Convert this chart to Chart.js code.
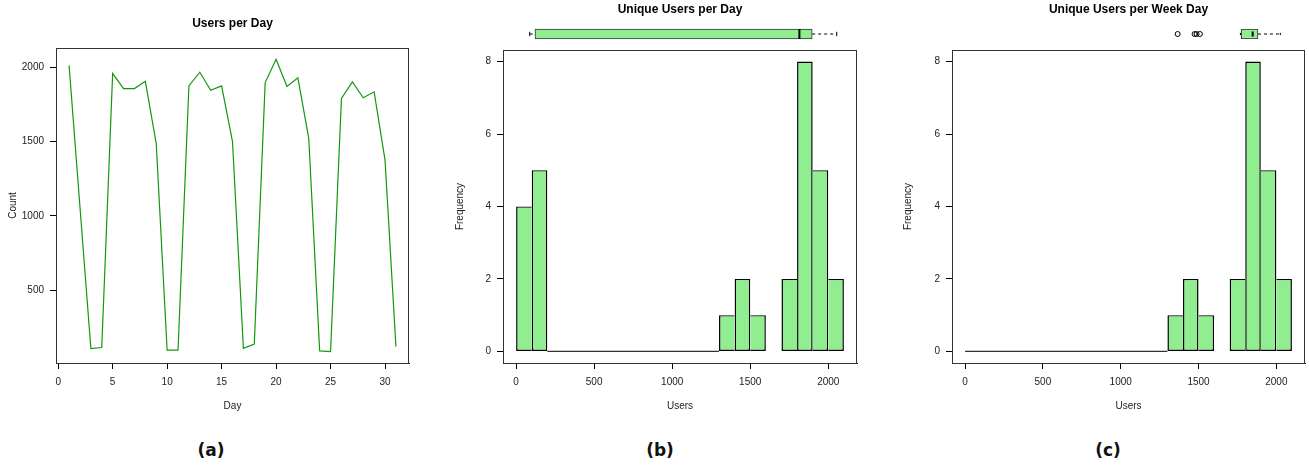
<!DOCTYPE html>
<html>
<head>
<meta charset="utf-8">
<script src="https://cdn.jsdelivr.net/npm/chart.js@4.4.0/dist/chart.umd.min.js"></script>
<style>
  body { margin: 0; width: 1309px; height: 468px; background: #fff; position: relative; overflow: hidden; }
  canvas { position: absolute; }
  .tag { position: absolute; top: 440px; width: 60px; margin-left: -30px; text-align: center;
         font: bold 17px "DejaVu Sans", sans-serif; color: #111; }
</style>
</head>
<body>
<canvas id="dayChart" width="436" height="425" style="left:0;top:0"></canvas>
<canvas id="uniqueChart" width="436" height="425" style="left:440px;top:0"></canvas>
<canvas id="weekChart" width="433" height="425" style="left:876px;top:0"></canvas>
<canvas id="uniqueBox" width="354" height="20" style="left:503px;top:24px"></canvas>
<canvas id="weekBox" width="353" height="20" style="left:952px;top:24px"></canvas>
<div class="tag" style="left:211px">(a)</div>
<div class="tag" style="left:660px">(b)</div>
<div class="tag" style="left:1108px">(c)</div>

<script>
// users per day (panel a)
const days = [1, 2, 3, 4, 5, 6, 7, 8, 9, 10, 11, 12, 13, 14, 15, 16, 17, 18, 19, 20, 21, 22, 23, 24, 25, 26, 27, 28, 29, 30, 31];
const dailyUsers = [2013, 1060, 107, 114, 1958, 1857, 1857, 1906, 1487, 96, 96, 1875, 1967, 1846, 1875, 1500,
                    109, 138, 1897, 2054, 1871, 1929, 1522, 92, 87, 1790, 1902, 1795, 1835, 1375, 121];
const dayTicks = [0, 5, 10, 15, 20, 25, 30];
const countTicks = [500, 1000, 1500, 2000];

// histograms (panels b and c), bins of 100 users
const binStarts = [0, 100, 200, 300, 400, 500, 600, 700, 800, 900, 1000, 1100, 1200, 1300, 1400, 1500, 1600, 1700, 1800, 1900, 2000];
const binWidth = 100;
const countsAllDays  = [4, 5, 0, 0, 0, 0, 0, 0, 0, 0, 0, 0, 0, 1, 2, 1, 0, 2, 8, 5, 2];
const countsWeekDays = [0, 0, 0, 0, 0, 0, 0, 0, 0, 0, 0, 0, 0, 1, 2, 1, 0, 2, 8, 5, 2];
const emptyRunAllDays = [200, 1300];   // zero bins drawn as a flat line
const emptyRunWeekDays = [0, 1300];
const userTicks = [0, 500, 1000, 1500, 2000];
const freqTicks = [0, 2, 4, 6, 8];

// box plots: min, lower hinge, median, upper hinge, max
const boxAllDays = [87, 121, 1815, 1897, 2054];
const outliersAllDays = [];
const boxWeekDays = [1790, 1795, 1871, 1906, 2054];
const outliersWeekDays = [1375, 1487, 1500, 1522];

Chart.defaults.font.family = '"Liberation Sans", Arial, sans-serif';
Chart.defaults.font.size = 10;
Chart.defaults.color = '#222';

const titleFont = { size: 12, weight: 'bold' };

// closed box round the plot region, like R's bty="o"
const frame = {
  id: 'frame',
  afterDraw(chart) {
    const { ctx, chartArea: a } = chart;
    ctx.save();
    ctx.strokeStyle = '#333';
    ctx.lineWidth = 1;
    ctx.strokeRect(Math.round(a.left) + 0.5, Math.round(a.top) + 0.5,
                   Math.round(a.right - a.left) - 1, Math.round(a.bottom - a.top));
    ctx.restore();
  }
};

function fixedTicks(list) {
  return scale => { scale.ticks = list.map(v => ({ value: v })); };
}

const plainNumber = v => String(v);

function axisX(min, max, ticks, label) {
  return {
    type: 'linear', min: min, max: max, offset: false,
    afterBuildTicks: fixedTicks(ticks),
    ticks: { padding: 7, maxRotation: 0, autoSkip: false, callback: plainNumber },
    grid: { drawOnChartArea: false, tickLength: 6, color: '#000', offset: false },
    border: { color: '#000' },
    title: { display: true, text: label, padding: { top: 0, bottom: 13 } },
    afterFit: scale => { scale.height = 62; }
  };
}

function axisY(min, max, ticks, label, titlePad, width) {
  return {
    type: 'linear', min: min, max: max,
    afterBuildTicks: fixedTicks(ticks),
    ticks: { padding: 6, callback: plainNumber },
    grid: { drawOnChartArea: false, tickLength: 6, color: '#000' },
    border: { color: '#333' },
    title: { display: true, text: label, padding: { top: titlePad, bottom: 0 } },
    afterFit: scale => { scale.width = width; }
  };
}

// only one side of each shared bin edge gets a border
function sideBorders(counts, i) {
  const h = counts[i];
  const prev = i > 0 ? counts[i - 1] : 0;
  const next = i < counts.length - 1 ? counts[i + 1] : 0;
  return { top: 1.3, bottom: 1.3, left: h > prev ? 1.5 : 0, right: h >= next ? 1.5 : 0 };
}

// panel (a)
new Chart(document.getElementById('dayChart'), {
  type: 'line',
  data: {
    datasets: [{
      data: days.map((d, i) => ({ x: d, y: dailyUsers[i] })),
      borderColor: '#12980f',
      borderWidth: 1.2,
      pointRadius: 0,
      tension: 0
    }]
  },
  options: {
    responsive: false,
    animation: false,
    layout: { padding: { left: 0, right: 27, top: 0, bottom: 0 } },
    plugins: {
      legend: { display: false },
      tooltip: { enabled: false },
      title: { display: true, fullSize: false, text: 'Users per Day', font: titleFont, color: '#000',
               padding: { top: 16, bottom: 17.6 } }
    },
    scales: {
      x: axisX(-0.2, 32.2, dayTicks, 'Day'),
      y: axisY(10, 2130, countTicks, 'Count', 7, 56)
    }
  },
  plugins: [frame]
});

function histogram(id, title, counts, emptyRun, titlePad, yWidth, padRight) {
  new Chart(document.getElementById(id), {
    type: 'bar',
    data: {
      datasets: [
        {
          type: 'bar',
          data: binStarts.map((b, i) => ({ x: b + binWidth / 2, y: counts[i] })),
          backgroundColor: '#90ee90',
          borderColor: '#000',
          borderWidth: ctx => sideBorders(counts, ctx.dataIndex),
          borderSkipped: false,
          inflateAmount: 0,
          barPercentage: 1,
          categoryPercentage: 1
        },
        {
          type: 'line',
          data: [{ x: emptyRun[0], y: 0 }, { x: emptyRun[1], y: 0 }],
          borderColor: '#333',
          borderWidth: 1.2,
          pointRadius: 0
        }
      ]
    },
    options: {
      responsive: false,
      animation: false,
      layout: { padding: { left: 0, right: padRight, top: 0, bottom: 0 } },
      plugins: {
        legend: { display: false },
        tooltip: { enabled: false },
        title: { display: true, fullSize: false, text: title, font: titleFont, color: '#000',
                 padding: { top: 2, bottom: 33.6 } }
      },
      scales: {
        x: axisX(-84, 2184, userTicks, 'Users'),
        y: axisY(-0.32, 8.32, freqTicks, 'Frequency', titlePad, yWidth)
      }
    },
    plugins: [frame]
  });
}

function boxplot(id, stats, outliers) {
  const [lo, q1, med, q3, hi] = stats;
  const seg = (pts, extra) => Object.assign({
    type: 'line', data: pts, borderColor: '#000', borderWidth: 1, pointRadius: 0, order: 0
  }, extra || {});
  new Chart(document.getElementById(id), {
    type: 'bar',
    data: {
      datasets: [
        {
          type: 'bar', indexAxis: 'y', order: 1,
          data: [{ x: [q1, q3], y: 0 }],
          backgroundColor: '#90ee90', borderColor: '#333', borderWidth: 1,
          borderSkipped: false, barThickness: 10
        },
        seg([{ x: lo, y: 0 }, { x: q1, y: 0 }], { borderDash: [3, 3] }),
        seg([{ x: q3, y: 0 }, { x: hi, y: 0 }], { borderDash: [3, 3] }),
        seg([{ x: lo, y: -0.22 }, { x: lo, y: 0.22 }]),
        seg([{ x: hi, y: -0.22 }, { x: hi, y: 0.22 }]),
        seg([{ x: med, y: -0.5 }, { x: med, y: 0.5 }], { borderWidth: 2 }),
        {
          type: 'scatter', order: 0,
          data: outliers.map(v => ({ x: v, y: 0 })),
          pointStyle: 'circle', pointRadius: 2.5,
          borderColor: '#000', backgroundColor: 'rgba(0,0,0,0)', borderWidth: 1
        }
      ]
    },
    options: {
      responsive: false,
      animation: false,
      layout: { padding: 0 },
      plugins: { legend: { display: false }, tooltip: { enabled: false } },
      scales: {
        x: { type: 'linear', min: -84, max: 2184, display: false, offset: false },
        y: { type: 'linear', min: -1, max: 1, display: false, offset: false }
      }
    }
  });
}

histogram('uniqueChart', 'Unique Users per Day', countsAllDays, emptyRunAllDays, 14.7, 63, 19);
histogram('weekChart', 'Unique Users per Week Day', countsWeekDays, emptyRunWeekDays, 26, 76, 4);
boxplot('uniqueBox', boxAllDays, outliersAllDays);
boxplot('weekBox', boxWeekDays, outliersWeekDays);
</script>
</body>
</html>
